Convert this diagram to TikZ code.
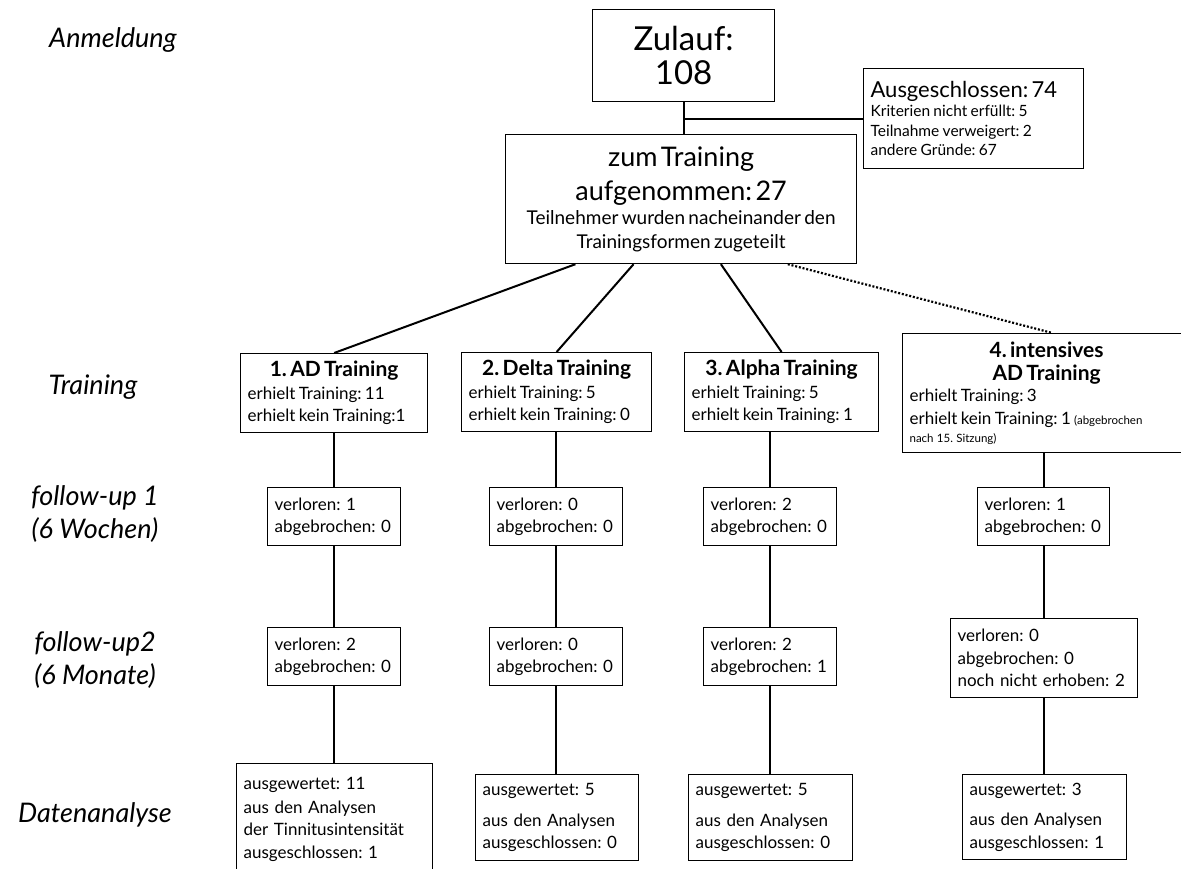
\documentclass[tikz,border=0pt]{standalone}
\usepackage{fontspec}
\setmainfont{Lato}
\usetikzlibrary{calc}
\frenchspacing
\newcommand{\fsz}[2]{\fontsize{#1}{#2}\selectfont}
\tikzset{
  box/.style={draw, line width=1.2pt, inner xsep=7pt, inner ysep=0pt, anchor=north west, align=left},
  conn/.style={line width=2pt},
  lab/.style={font=\fsz{27}{33}\itshape, align=center},
  body/.style={font=\fsz{17}{22.5}},
  ttl/.style={font=\fsz{21}{23}\bfseries},
}
\begin{document}
\begin{tikzpicture}[x=1pt,y=-1pt]
\useasboundingbox (0,0) rectangle (1181,868);
\fill[white] (0,0) rectangle (1181,868);
\clip (0,0) rectangle (1181,868);

% left labels
\node[lab] (lA) at (113,40) {Anmeldung\par};
\node[lab] (lT) at (93,387) {Training\par};
\node[lab] (lF1) at (95,514) {follow-up 1\\(6 Wochen)\par};
\node[lab] (lF2) at (95,660) {follow-up2\\(6 Monate)\par};
\node[lab] (lD) at (95,815) {Datenanalyse\par};

% top
\node[box, align=center, minimum width=182pt, minimum height=92pt, text width=168pt, font=\fsz{33}{34}] (zul) at (592,9) {Zulauf:\\108\par};
\node[box, minimum width=220pt, minimum height=100pt, text width=206pt] (aus) at (863,68)
 {{\fsz{22}{24}Ausgeschlossen: 74\par}\fsz{15.5}{19.5}Kriterien nicht erfüllt: 5\\Teilnahme verweigert: 2\\andere Gründe: 67\par};
\node[box, align=center, minimum width=351pt, minimum height=129pt, text width=337pt] (zum) at (505,134)
 {{\fsz{27}{34}zum Training\\aufgenommen: 27\par}\fsz{19}{24}Teilnehmer wurden nacheinander den\\Trainingsformen zugeteilt\par};

% training row
\node[box, minimum width=187pt, minimum height=79pt, text width=173pt] (t1) at (240,353)
 {{\fsz{21}{23}\bfseries\centering 1. AD Training\par}\fsz{17}{22.5}erhielt Training: 11\\erhielt kein Training:1\par};
\node[box, minimum width=190pt, minimum height=79pt, text width=176pt] (t2) at (461,352)
 {{\fsz{21}{23}\bfseries\centering 2. Delta Training\par}\fsz{17}{22.5}erhielt Training: 5\\erhielt kein Training: 0\par};
\node[box, minimum width=194pt, minimum height=79pt, text width=180pt] (t3) at (684,352)
 {{\fsz{21}{23}\bfseries\centering 3. Alpha Training\par}\fsz{17}{22.5}erhielt Training: 5\\erhielt kein Training: 1\par};
\node[box, minimum width=288pt, minimum height=119pt, text width=274pt] (t4) at (902,333)
 {{\fsz{21}{23}\bfseries\centering 4. intensives\\AD Training\par}{\fsz{17}{21.5}erhielt Training: 3\\erhielt kein Training: 1 \fsz{11.5}{22.5}(abgebrochen\par}\fsz{11.5}{18}nach 15. Sitzung)\par};

% follow-up 1
\node[box, body, minimum width=133pt, minimum height=58pt, text width=119pt] (f1a) at (267,487) {verloren: 1\\abgebrochen: 0\par};
\node[box, body, minimum width=133pt, minimum height=58pt, text width=119pt] (f1b) at (489,487) {verloren: 0\\abgebrochen: 0\par};
\node[box, body, minimum width=133pt, minimum height=58pt, text width=119pt] (f1c) at (703,487) {verloren: 2\\abgebrochen: 0\par};
\node[box, body, minimum width=132pt, minimum height=58pt, text width=118pt] (f1d) at (977,487) {verloren: 1\\abgebrochen: 0\par};

% follow-up 2
\node[box, body, minimum width=133pt, minimum height=58pt, text width=119pt] (f2a) at (267,627) {verloren: 2\\abgebrochen: 0\par};
\node[box, body, minimum width=133pt, minimum height=58pt, text width=119pt] (f2b) at (489,627) {verloren: 0\\abgebrochen: 0\par};
\node[box, body, minimum width=133pt, minimum height=58pt, text width=119pt] (f2c) at (703,627) {verloren: 2\\abgebrochen: 1\par};
\node[box, body, minimum width=187pt, minimum height=79pt, text width=173pt] (f2d) at (950,618) {verloren: 0\\abgebrochen: 0\\noch nicht erhoben: 2\par};

% Datenanalyse
\node[box, body, minimum width=196pt, minimum height=112pt, text width=182pt] (d1) at (236,763)
 {ausgewertet: 11\\[1pt]aus den Analysen\\der Tinnitusintensität\\ausgeschlossen: 1\par};
\node[box, body, minimum width=163pt, minimum height=86pt, text width=149pt] (d2) at (475,774)
 {ausgewertet: 5\\[8pt]aus den Analysen\\ausgeschlossen: 0\par};
\node[box, body, minimum width=164pt, minimum height=86pt, text width=150pt] (d3) at (688,774)
 {ausgewertet: 5\\[8pt]aus den Analysen\\ausgeschlossen: 0\par};
\node[box, body, minimum width=164pt, minimum height=85pt, text width=150pt] (d4) at (962,774)
 {ausgewertet: 3\\[8pt]aus den Analysen\\ausgeschlossen: 1\par};

% connectors top
\coordinate (jz) at (zul.south |- aus.west);
\draw[conn] (zul.south) -- (zul.south |- zum.north);
\draw[conn] (jz) -- (aus.west);
\coordinate (z1) at ($(zum.south west)!0.2!(zum.south east)$);
\coordinate (z2) at ($(zum.south west)!0.365!(zum.south east)$);
\coordinate (z3) at ($(zum.south west)!0.613!(zum.south east)$);
\coordinate (z4) at ($(zum.south west)!0.803!(zum.south east)$);
\draw[conn] (z1) -- (t1.north);
\draw[conn] (z2) -- (t2.north);
\draw[conn] (z3) -- (t3.north);
\draw[conn, line width=2.2pt, dash pattern=on 2pt off 1.8pt] (z4) -- ($(t4.north west)!0.52!(t4.north east)$);

% vertical chains
\draw[conn] (t1.south) -- (f1a.north);
\draw[conn] (f1a.south) -- (f2a.north);
\draw[conn] (f2a.south) -- (f2a.south |- d1.north);
\draw[conn] (f1b.north) -- (f1b.north |- t2.south);
\draw[conn] (f1b.south) -- (f2b.north);
\draw[conn] (f2b.south) -- (f2b.south |- d2.north);
\draw[conn] (f1c.north) -- (f1c.north |- t3.south);
\draw[conn] (f1c.south) -- (f2c.north);
\draw[conn] (f2c.south) -- (f2c.south |- d3.north);
\draw[conn] (f1d.north) -- (f1d.north |- t4.south);
\draw[conn] (f1d.south) -- (f1d.south |- f2d.north);
\draw[conn] (f2d.south) -- (f2d.south |- d4.north);
\end{tikzpicture}
\end{document}
